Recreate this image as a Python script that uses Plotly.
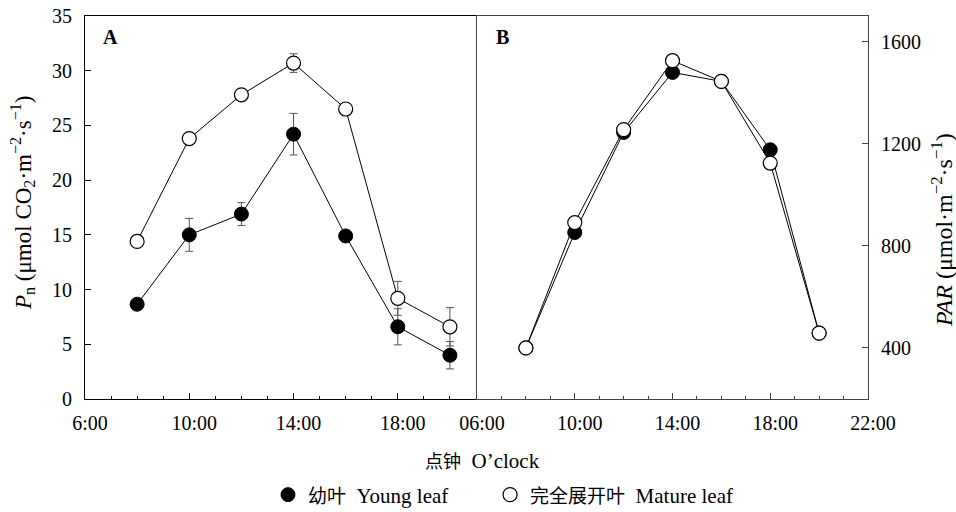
import plotly.graph_objects as go

hours = [8, 10, 12, 14, 16, 18, 20]

# Panel A: net photosynthetic rate
pn_young = [8.66, 15.0, 16.9, 24.2, 14.9, 6.6, 4.0]
pn_young_err = [0, 1.5, 1.05, 1.9, 0, 1.65, 1.25]
pn_mature = [14.4, 23.8, 27.8, 30.7, 26.5, 9.2, 6.6]
pn_mature_err = [0, 0, 0, 0.85, 0, 1.55, 1.75]

# Panel B: PAR
par_young = [400, 852, 1244, 1479, 1444, 1176, 458]
par_mature = [400, 891, 1255, 1525, 1444, 1124, 458]

xtick_vals_a = [6, 10, 14, 18]
xtick_text_a = ["6:00", "10:00", "14:00", "18:00"]
xtick_vals_b = [6, 10, 14, 18, 22]
xtick_text_b = ["06:00", "10:00", "14:00", "18:00", "22:00"]
ytick_vals_a = [0, 5, 10, 15, 20, 25, 30, 35]
ytick_vals_b = [400, 800, 1200, 1600]

NB = "\u00a0"
legend_young = '<span style="font-size:19px">幼叶</span>' + NB * 2 + "Young leaf" + NB * 7
legend_mature = '<span style="font-size:19px">完全展开叶</span>' + NB * 2 + "Mature leaf"

FONT = "Liberation Serif, Times New Roman, Noto Sans CJK SC, serif"
W, H = 956, 512
L, R, T, B = 85, 868, 16, 399   # plot area in pixels


def px_x(p):
    return (p - L) / (R - L)


def px_y(p):
    return (B - p) / (B - T)


young_marker = dict(size=14, color="black", line=dict(color="black", width=1))
mature_marker = dict(size=14, color="white", line=dict(color="black", width=1.2))
line_style = dict(color="black", width=1)
err_style = dict(color="#555555", thickness=1, width=4)

fig = go.Figure()

fig.add_trace(go.Scatter(
    x=hours, y=pn_young, mode="lines+markers", marker=young_marker, line=line_style,
    error_y=dict(type="data", array=pn_young_err, visible=True, **err_style),
    xaxis="x", yaxis="y", showlegend=False, name="Young leaf"))
fig.add_trace(go.Scatter(
    x=hours, y=pn_mature, mode="lines+markers", marker=mature_marker, line=line_style,
    error_y=dict(type="data", array=pn_mature_err, visible=True, **err_style),
    xaxis="x", yaxis="y", showlegend=False, name="Mature leaf"))
fig.add_trace(go.Scatter(
    x=hours, y=par_young, mode="lines+markers", marker=young_marker, line=line_style,
    xaxis="x2", yaxis="y2", showlegend=False, name="Young leaf"))
fig.add_trace(go.Scatter(
    x=hours, y=par_mature, mode="lines+markers", marker=mature_marker, line=line_style,
    xaxis="x2", yaxis="y2", showlegend=False, name="Mature leaf"))

# legend entries
fig.add_trace(go.Scatter(x=[None], y=[None], mode="markers", marker=young_marker,
                         name=legend_young, xaxis="x", yaxis="y"))
fig.add_trace(go.Scatter(x=[None], y=[None], mode="markers", marker=mature_marker,
                         name=legend_mature, xaxis="x", yaxis="y"))

tick_common = dict(ticks="inside", ticklen=6, tickwidth=1, showgrid=False, zeroline=False,
                   showline=True, linewidth=1, automargin=False,
                   tickfont=dict(family=FONT, size=20, color="black"))

split_a = px_x(476)
split_b = px_x(477)

fig.update_layout(
    width=W, height=H,
    margin=dict(l=L, r=W - R, t=T, b=H - B, autoexpand=False),
    paper_bgcolor="white", plot_bgcolor="white",
    font=dict(family=FONT, size=20, color="black"),
    xaxis=dict(domain=[0, split_a], range=[6, 21], tickvals=xtick_vals_a,
               ticktext=xtick_text_a, mirror=True, linecolor="black", tickcolor="black",
               anchor="y", ticklabelshift=5, ticklabelstandoff=6,
               minor=dict(dtick=1, tick0=6, ticks="inside", ticklen=3, tickcolor="black"),
               **tick_common),
    yaxis=dict(domain=[0, 1], range=[0, 35], tickvals=ytick_vals_a, mirror=True,
               linecolor="black", tickcolor="black", anchor="x", ticklabelstandoff=8,
               **tick_common),
    xaxis2=dict(domain=[split_b, 1], range=[6, 22], tickvals=xtick_vals_b,
                ticktext=xtick_text_b, mirror=True, linecolor="#444444", tickcolor="#444444",
                anchor="y2", ticklabelshift=5, ticklabelstandoff=6,
                minor=dict(dtick=1, tick0=6, ticks="inside", ticklen=3, tickcolor="#444444"),
                **tick_common),
    yaxis2=dict(domain=[0, 1], range=[200, 1700], tickvals=ytick_vals_b, mirror=True,
                side="right", linecolor="#444444", tickcolor="#444444", anchor="x2",
                ticklabelstandoff=8, **tick_common),
    legend=dict(orientation="h", x=px_x(268), xanchor="left", y=px_y(495), yanchor="middle",
                font=dict(family=FONT, size=21, color="black"), itemsizing="trace",
                bgcolor="rgba(0,0,0,0)"),
    annotations=[
        dict(text="<b>A</b>", x=px_x(101), y=px_y(37), xref="paper", yref="paper",
             xanchor="left", yanchor="middle", showarrow=False, font=dict(size=20)),
        dict(text="<b>B</b>", x=px_x(494), y=px_y(37), xref="paper", yref="paper",
             xanchor="left", yanchor="middle", showarrow=False, font=dict(size=20)),
        dict(text='<span style="font-size:18px">点钟</span>' + NB * 2 + "O’clock",
             x=px_x(482), y=px_y(461), xref="paper", yref="paper",
             xanchor="center", yanchor="middle", showarrow=False, font=dict(size=21)),
        dict(text="<i>P</i><sub>n</sub> (μmol CO<sub>2</sub>·m<sup>−2</sup>·s<sup>−1</sup>)",
             x=px_x(22), y=px_y(203), xref="paper", yref="paper", textangle=-90,
             xanchor="center", yanchor="middle", showarrow=False, font=dict(size=23)),
        dict(text="<i>PAR</i> (μmol·m<sup>−2</sup>·s<sup>−1</sup>)",
             x=px_x(942), y=px_y(230), xref="paper", yref="paper", textangle=-90,
             xanchor="center", yanchor="middle", showarrow=False, font=dict(size=24)),
    ],
)

fig.write_html("out.html")
